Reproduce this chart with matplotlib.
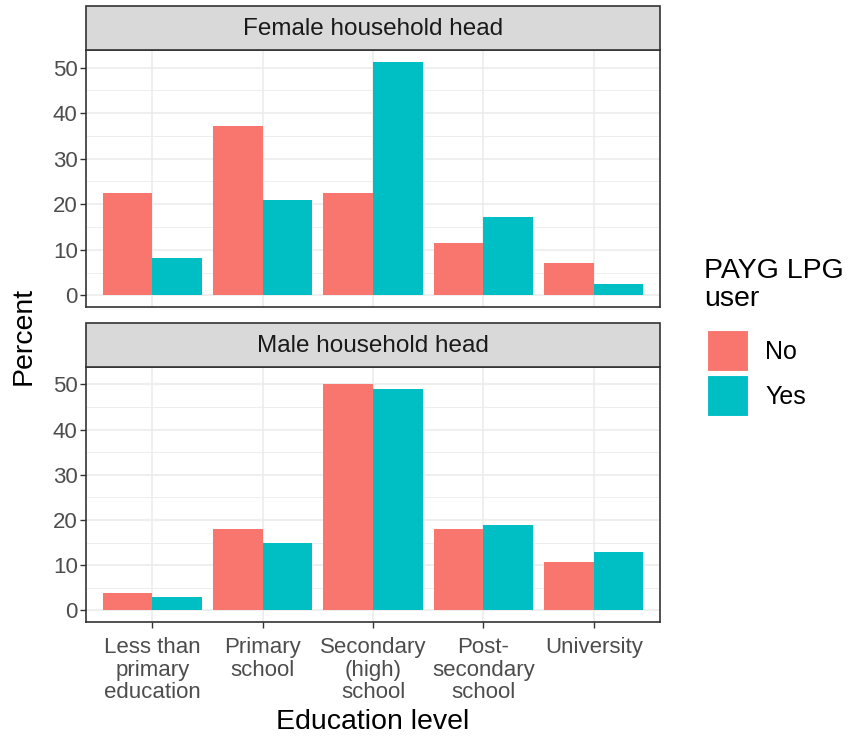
import matplotlib.pyplot as plt
from matplotlib.patches import Rectangle
import numpy as np

plt.rcParams['font.family'] = ['Liberation Sans', 'DejaVu Sans']

categories = ["Less than\nprimary\neducation", "Primary\nschool", "Secondary\n(high)\nschool",
              "Post-\nsecondary\nschool", "University"]
panels = ["Female household head", "Male household head"]
female_no = [22.4, 37.2, 22.4, 11.4, 7.0]
female_yes = [8.3, 21.0, 51.3, 17.2, 2.4]
male_no = [3.9, 18.1, 50.1, 18.1, 10.8]
male_yes = [3.0, 15.0, 49.0, 19.0, 12.9]
series_names = ["No", "Yes"]
colors = ["#F8766D", "#00BFC4"]

W, H = 852, 744
fig = plt.figure(figsize=(W / 100, H / 100), dpi=100)

def fx(px):
    return px / W

def fy(px):
    return 1 - px / H

# (top, bottom, strip_top) in pixels
boxes = [(50, 307, 6), (367, 622, 323)]
data = [(female_no, female_yes), (male_no, male_yes)]
x = np.arange(len(categories))
ymax = max(max(female_no), max(female_yes), max(male_no), max(male_yes))
pad = ymax * 0.05
left, right = 86, 660

for i, ((top, bot, stop), (no, yes)) in enumerate(zip(boxes, data)):
    ax = fig.add_axes([fx(left), fy(bot), fx(right) - fx(left), fy(top) - fy(bot)])
    ax.bar(x - 0.225, no, width=0.45, color=colors[0], zorder=3)
    ax.bar(x + 0.225, yes, width=0.45, color=colors[1], zorder=3)
    ax.set_xlim(-0.6, len(categories) - 0.4)
    ax.set_ylim(-pad, ymax + pad)
    ax.set_yticks([0, 10, 20, 30, 40, 50])
    ax.set_yticks(np.arange(5, 50, 10), minor=True)
    ax.set_xticks(x)
    ax.grid(which='major', color='#EBEBEB', lw=1.1, zorder=0)
    ax.grid(which='minor', axis='y', color='#EBEBEB', lw=0.6, zorder=0)
    ax.tick_params(axis='y', which='minor', length=0)
    ax.tick_params(which='major', length=4, width=1, color='#333333',
                   labelsize=16, labelcolor='#4D4D4D', pad=2)
    for s in ax.spines.values():
        s.set_color('#333333')
        s.set_linewidth(1.2)
    if i == 0:
        ax.set_xticklabels([])
        ax.tick_params(axis='x', length=0)
    else:
        ax.set_xticklabels(categories, linespacing=1.08)
        ax.tick_params(axis='x', pad=7)
    # strip
    fig.patches.append(Rectangle((fx(left), fy(top)), fx(right) - fx(left), fy(stop) - fy(top),
                                 transform=fig.transFigure, facecolor='#D9D9D9',
                                 edgecolor='#333333', lw=1.2))
    fig.text((fx(left) + fx(right)) / 2, (fy(top) + fy(stop)) / 2 - 0.002, panels[i],
             ha='center', va='center', fontsize=17.5, color='#1A1A1A')

fig.text(fx(24), fy(336), "Percent", rotation=90, ha='center', va='center', fontsize=20.5)
fig.text((fx(left) + fx(right)) / 2, fy(722), "Education level", ha='center', va='center',
         fontsize=20.5)

# legend
fig.text(fx(704), fy(258), "PAYG LPG\nuser", ha='left', va='top', fontsize=20.5,
         linespacing=1.1)
for k, (name, c) in enumerate(zip(series_names, colors)):
    ktop = 330 + k * 45
    fig.patches.append(Rectangle((fx(707), fy(ktop + 41)), fx(41), fy(0) - fy(41),
                                 transform=fig.transFigure, facecolor=c, edgecolor='white',
                                 lw=0.8))
    fig.text(fx(765), fy(ktop + 22), name, ha='left', va='center', fontsize=18)

fig.savefig("out.png", dpi=100)
